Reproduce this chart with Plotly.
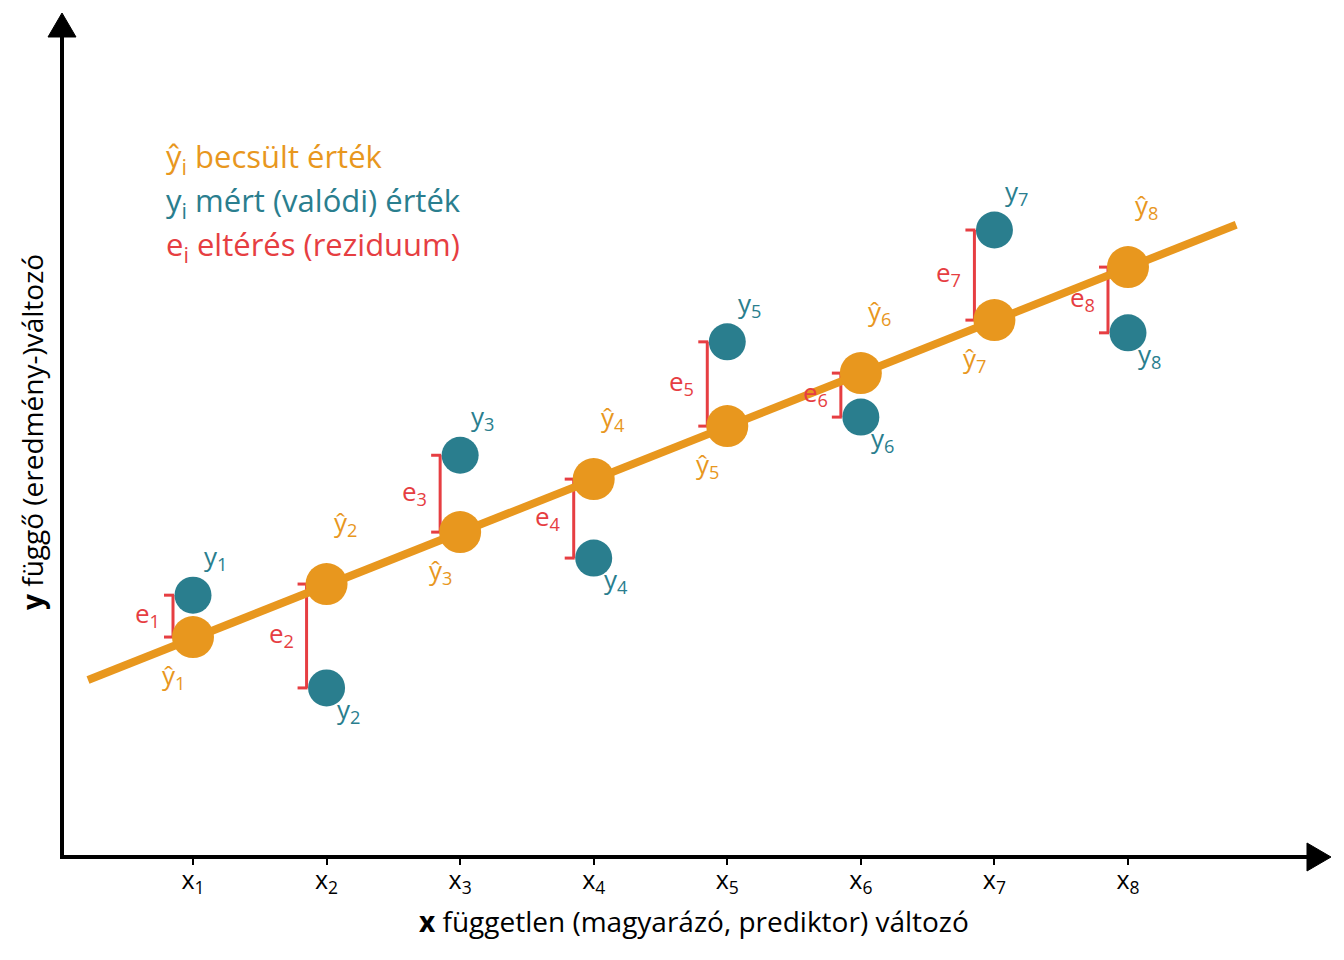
import plotly.graph_objects as go

# ---- data ----
x_vals = [1, 2, 3, 4, 5, 6, 7, 8]
y_hat = [4.15, 5.15, 6.13, 7.13, 8.13, 9.13, 10.13, 11.13]
y_obs = [4.94, 3.19, 7.58, 5.64, 9.72, 8.30, 11.83, 9.89]
line_x = [0.214, 8.81]
line_y = [3.34, 11.93]
tick_labels = ["x<sub>%d</sub>" % i for i in x_vals]

ORANGE = "#E8971E"
TEAL = "#2A7E8E"
RED = "#E63E42"
FONT = "Open Sans"

OFF = 8  # page body margin
W, H = 1344 - OFF, 960 - OFF
# plot area in reference pixels
L, R, T, B = 62, 1330, 13, 857
px_per_x = 133.57
px_per_y = 53.0
x0 = 1 - (193 - L) / px_per_x
x1 = x0 + (R - L) / px_per_x
y0 = 0.0
y1 = (B - T) / px_per_y


def pxp(px):
    return (px - L) / (R - L)


def pyp(py):
    return (B - py) / (B - T)


fig = go.Figure()

fig.add_trace(go.Scatter(x=line_x, y=line_y, mode="lines",
                         line=dict(color=ORANGE, width=8), hoverinfo="skip"))
fig.add_trace(go.Scatter(x=x_vals, y=y_hat, mode="markers",
                         marker=dict(color=ORANGE, size=42), hoverinfo="skip"))
fig.add_trace(go.Scatter(x=x_vals, y=y_obs, mode="markers",
                         marker=dict(color=TEAL, size=37), hoverinfo="skip"))

shapes = []
annotations = []
LBL = 26
for i, (xv, yh, yo) in enumerate(zip(x_vals, y_hat, y_obs), start=1):
    lo, hi = min(yh, yo), max(yh, yo)
    shapes.append(dict(type="line", xref="x", yref="y", xsizemode="pixel", xanchor=xv,
                       x0=-20, x1=-20, y0=lo, y1=hi, line=dict(color=RED, width=3),
                       layer="below"))
    for yy in (lo, hi):
        shapes.append(dict(type="line", xref="x", yref="y", xsizemode="pixel", xanchor=xv,
                           x0=-29, x1=-19, y0=yy, y1=yy, line=dict(color=RED, width=3),
                           layer="below"))
    annotations.append(dict(x=xv, y=(lo + hi) / 2, xref="x", yref="y", text="e<sub>%d</sub>" % i,
                            showarrow=False, xanchor="right", yanchor="middle",
                            xshift=-31, yshift=2,
                            font=dict(color=RED, size=LBL, family=FONT)))
    if yo > yh:
        ys_obs, ys_hat, xs_hat = 38, -39, -20
    else:
        ys_obs, ys_hat, xs_hat = -22, 61, 19
    annotations.append(dict(x=xv, y=yo, xref="x", yref="y", text="y<sub>%d</sub>" % i,
                            showarrow=False, xshift=22, yshift=ys_obs,
                            font=dict(color=TEAL, size=LBL, family=FONT)))
    annotations.append(dict(x=xv, y=yh, xref="x", yref="y", text="ŷ<sub>%d</sub>" % i,
                            showarrow=False, xshift=xs_hat, yshift=ys_hat,
                            font=dict(color=ORANGE, size=LBL, family=FONT)))

# axes with arrows
shapes.append(dict(type="line", xref="paper", yref="paper", x0=pxp(L), x1=pxp(1310),
                   y0=pyp(B), y1=pyp(B), line=dict(color="black", width=4)))
shapes.append(dict(type="line", xref="paper", yref="paper", x0=pxp(L), x1=pxp(L),
                   y0=pyp(B + 2), y1=pyp(34), line=dict(color="black", width=4)))
shapes.append(dict(type="path", xref="paper", yref="paper",
                   path="M %f,%f L %f,%f L %f,%f Z" % (pxp(1331), pyp(B), pxp(1307), pyp(B - 14),
                                                       pxp(1307), pyp(B + 14)),
                   fillcolor="black", line=dict(color="black", width=1)))
shapes.append(dict(type="path", xref="paper", yref="paper",
                   path="M %f,%f L %f,%f L %f,%f Z" % (pxp(L), pyp(13), pxp(L - 14), pyp(37),
                                                       pxp(L + 14), pyp(37)),
                   fillcolor="black", line=dict(color="black", width=1)))

# legend text
legend_lines = [("ŷ<sub>i</sub> becsült érték", ORANGE, 158),
                ("y<sub>i</sub> mért (valódi) érték", TEAL, 202),
                ("e<sub>i</sub> eltérés (reziduum)", RED, 246)]
for txt, col, py in legend_lines:
    annotations.append(dict(x=pxp(164), y=pyp(py), xref="paper", yref="paper", text=txt,
                            showarrow=False, xanchor="left", yanchor="middle",
                            font=dict(color=col, size=31, family=FONT)))

# axis titles
annotations.append(dict(x=pxp(694), y=pyp(921), xref="paper", yref="paper",
                        text="<b>x</b> független (magyarázó, prediktor) változó",
                        showarrow=False, xanchor="center", yanchor="middle",
                        font=dict(color="black", size=28, family=FONT)))
annotations.append(dict(x=pxp(32), y=pyp(432), xref="paper", yref="paper",
                        text="<b>y</b> függő (eredmény-)változó", textangle=-90,
                        showarrow=False, xanchor="center", yanchor="middle",
                        font=dict(color="black", size=28, family=FONT)))

fig.update_layout(
    width=W, height=H,
    margin=dict(l=L - OFF, r=1344 - R, t=T - OFF, b=960 - B),
    paper_bgcolor="white", plot_bgcolor="white",
    showlegend=False,
    shapes=shapes, annotations=annotations,
    xaxis=dict(range=[x0, x1], tickvals=x_vals, ticktext=tick_labels, showgrid=False,
               zeroline=False, showline=False, ticks="outside", ticklen=7, tickwidth=2,
               tickcolor="black", tickfont=dict(size=25, family=FONT, color="black"),
               ticklabelstandoff=-6, fixedrange=True),
    yaxis=dict(range=[y0, y1], showgrid=False, zeroline=False, showline=False,
               showticklabels=False, ticks="", fixedrange=True),
)

fig.write_html("out.html", config={"displayModeBar": False})
